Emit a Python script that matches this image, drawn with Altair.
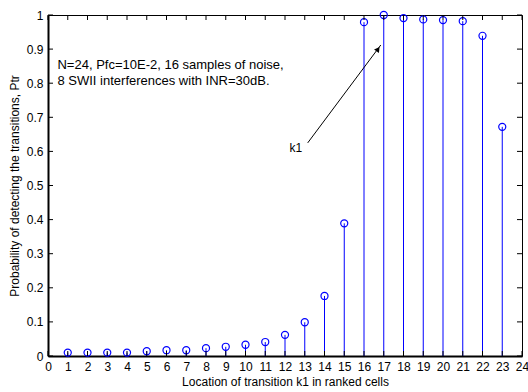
import altair as alt
import pandas as pd

cells = list(range(1, 24))
ptr = [0.010, 0.010, 0.010, 0.010, 0.014, 0.017, 0.017, 0.023, 0.027, 0.033,
       0.041, 0.062, 0.099, 0.176, 0.389, 0.979, 1.0, 0.991, 0.987, 0.985,
       0.982, 0.939, 0.672]
x_ticks = list(range(0, 25))
y_ticks = [round(i * 0.1, 1) for i in range(11)]
note_lines = ["N=24, Pfc=10E-2, 16 samples of noise,",
              "8 SWII interferences with INR=30dB."]
note_x = [0.48, 0.48]
note_y = [0.853, 0.806]
arrow_start = (13.15, 0.625)
arrow_end = (16.85, 0.912)
k1_label = "k1"
k1_pos = (12.55, 0.61)

W, H = 474, 341
FONT = "Liberation Sans"

df = pd.DataFrame({"k": cells, "p": ptr})
xs = alt.Scale(domain=[0, 24], nice=False, zero=False)
ys = alt.Scale(domain=[0, 1], nice=False, zero=False)

x_axis = alt.Axis(values=x_ticks, title="Location of transition k1 in ranked cells",
                  ticks=False, labelPadding=5, domainWidth=2, domainColor="black",
                  grid=False, labelFlush=False, titlePadding=4, labelOverlap=False)
y_axis = alt.Axis(values=y_ticks, title="Probability of detecting the transitions, Ptr",
                  ticks=False, labelPadding=5, domainWidth=2, domainColor="black",
                  grid=False, labelFlush=False, titlePadding=5, labelOverlap=False,
                  labelExpr="datum.value == 0 ? '0' : datum.value == 1 ? '1' : format(datum.value, '.1f')")


def X(f):
    return alt.X(f, scale=xs, axis=x_axis)


def Y(f):
    return alt.Y(f, scale=ys, axis=y_axis)


base = alt.Chart(df)
stems = base.mark_rule(color="#0000FF", strokeWidth=1).encode(
    x=X("k:Q"), y=Y("p:Q"), y2=alt.datum(0))
circles = base.mark_point(shape="circle", color="#0000FF", size=50, strokeWidth=1.2,
                          filled=False, opacity=1).encode(x=X("k:Q"), y=Y("p:Q"))

xt = pd.DataFrame({"t": x_ticks})
yt = pd.DataFrame({"t": y_ticks})
bt = alt.Chart(xt).mark_rule(color="black", strokeWidth=1).encode(
    x=X("t:Q"), y=alt.value(H), y2=alt.value(H - 5))
tt = alt.Chart(xt).mark_rule(color="black", strokeWidth=1).encode(
    x=X("t:Q"), y=alt.value(0), y2=alt.value(5))
lt = alt.Chart(yt).mark_rule(color="black", strokeWidth=1).encode(
    y=Y("t:Q"), x=alt.value(0), x2=alt.value(5))
rt = alt.Chart(yt).mark_rule(color="black", strokeWidth=1).encode(
    y=Y("t:Q"), x=alt.value(W), x2=alt.value(W - 5))

notes = alt.Chart(pd.DataFrame({"x": note_x, "y": note_y, "t": note_lines})).mark_text(
    align="left", baseline="middle", font=FONT, fontSize=13, color="black").encode(
    x=X("x:Q"), y=Y("y:Q"), text="t:N")

arrow_df = pd.DataFrame({"x": [arrow_start[0]], "y": [arrow_start[1]],
                         "x2": [arrow_end[0]], "y2": [arrow_end[1]]})
arrow = alt.Chart(arrow_df).mark_rule(color="black", strokeWidth=1).encode(
    x=X("x:Q"), y=Y("y:Q"), x2="x2:Q", y2="y2:Q")
head = alt.Chart(pd.DataFrame({"x": [arrow_end[0] - 0.14], "y": [arrow_end[1] - 0.012]})).mark_point(
    shape="triangle-up", filled=True, color="black", size=36, angle=36, opacity=1).encode(
    x=X("x:Q"), y=Y("y:Q"))
k1 = alt.Chart(pd.DataFrame({"x": [k1_pos[0]], "y": [k1_pos[1]], "t": [k1_label]})).mark_text(
    align="center", baseline="middle", font=FONT, fontSize=12, color="black").encode(
    x=X("x:Q"), y=Y("y:Q"), text="t:N")

chart = alt.layer(stems, circles, bt, tt, lt, rt, notes, arrow, head, k1).properties(
    width=W, height=H,
    autosize=alt.AutoSizeParams(type="none"),
    padding={"left": 48, "top": 15, "right": 6, "bottom": 36},
).configure_view(stroke="black", strokeWidth=1).configure_axis(
    labelFont=FONT, titleFont=FONT, labelFontSize=12, titleFontSize=12,
    titleFontWeight="normal", labelColor="black", titleColor="black")

chart.save("out.html", embed_options={"renderer": "svg", "actions": False})
